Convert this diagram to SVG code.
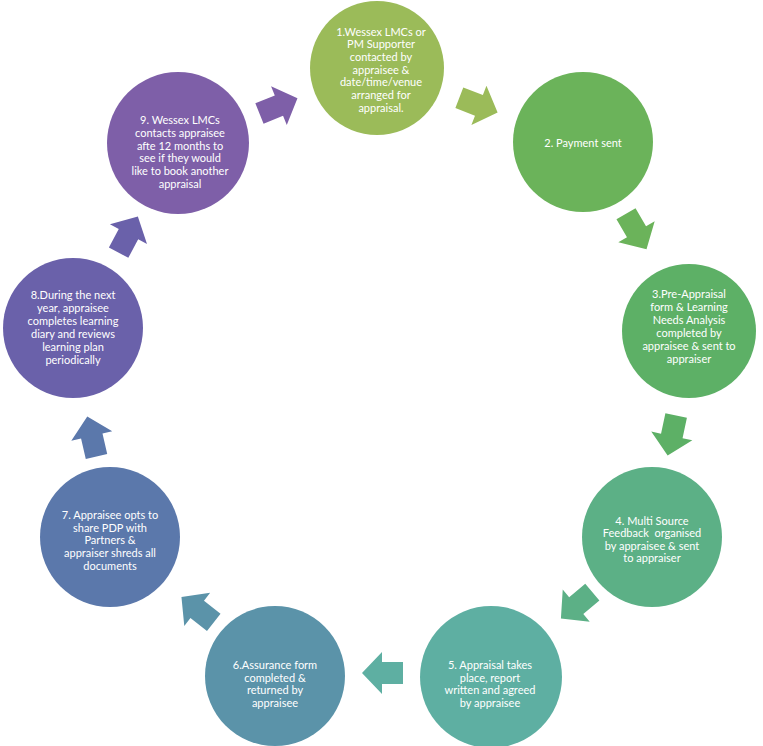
<svg xmlns="http://www.w3.org/2000/svg" width="763" height="746" viewBox="0 0 763 746">
<defs>
<style>
.t{font-family:Lato,"Open Sans","Liberation Sans",sans-serif;font-size:11px;fill:#ffffff;text-anchor:middle}
</style>
<path id="arr" d="M-20,-11 H1 V-21 L21,0 L1,21 V11 H-20 Z"/>
</defs>
<rect width="763" height="746" fill="#ffffff"/>
<g id="connectors">
<use href="#arr" fill="#9bbb59" transform="translate(478,105) rotate(21)"/>
<use href="#arr" fill="#6bb35a" transform="translate(636,231) rotate(60)"/>
<use href="#arr" fill="#5db066" transform="translate(672,435) rotate(102)"/>
<use href="#arr" fill="#5cb086" transform="translate(577,605) rotate(140)"/>
<use href="#arr" fill="#5eafa2" transform="translate(383,673) rotate(180)"/>
<use href="#arr" fill="#5b93a9" transform="translate(198,610) rotate(218)"/>
<use href="#arr" fill="#5b78ab" transform="translate(92,437) rotate(257)"/>
<use href="#arr" fill="#6a61aa" transform="translate(128,235) rotate(298)"/>
<use href="#arr" fill="#7e5fa8" transform="translate(278,106) rotate(338)"/>
</g>
<g id="n1">
<circle cx="377" cy="68" r="67" fill="#9bbb59"/>
<text class="t" x="381" y="35.5">1.Wessex LMCs or</text>
<text class="t" x="381" y="48.2">PM Supporter</text>
<text class="t" x="381" y="60.9">contacted by</text>
<text class="t" x="381" y="73.6">appraisee &amp;</text>
<text class="t" x="381" y="86.3">date/time/venue</text>
<text class="t" x="381" y="99">arranged for</text>
<text class="t" x="381" y="111.7">appraisal.</text>
</g>
<g id="n2">
<circle cx="583" cy="142" r="70" fill="#6bb35a"/>
<text class="t" x="583" y="147">2. Payment sent</text>
</g>
<g id="n3">
<circle cx="689" cy="331" r="67" fill="#5db066"/>
<text class="t" x="689" y="297.5">3.Pre-Appraisal</text>
<text class="t" x="689" y="310.5">form &amp; Learning</text>
<text class="t" x="689" y="323.5">Needs Analysis</text>
<text class="t" x="689" y="336.5">completed by</text>
<text class="t" x="689" y="349.5">appraisee &amp; sent to</text>
<text class="t" x="689" y="362.5">appraiser</text>
</g>
<g id="n4">
<circle cx="652" cy="537" r="70" fill="#5cb086"/>
<text class="t" x="652" y="524.5">4. Multi Source</text>
<text class="t" x="652" y="537">Feedback&#160; organised</text>
<text class="t" x="652" y="549.5">by appraisee &amp; sent</text>
<text class="t" x="652" y="562">to appraiser</text>
</g>
<g id="n5">
<circle cx="491" cy="677" r="71" fill="#5eafa2"/>
<text class="t" x="490" y="669">5. Appraisal takes</text>
<text class="t" x="490" y="681.7">place, report</text>
<text class="t" x="490" y="694.4">written and agreed</text>
<text class="t" x="490" y="707.1">by appraisee</text>
</g>
<g id="n6">
<circle cx="275" cy="676" r="70" fill="#5b93a9"/>
<text class="t" x="275" y="669">6.Assurance form</text>
<text class="t" x="275" y="681.7">completed &amp;</text>
<text class="t" x="275" y="694.4">returned by</text>
<text class="t" x="275" y="707.1">appraisee</text>
</g>
<g id="n7">
<circle cx="110" cy="537" r="70" fill="#5b78ab"/>
<text class="t" x="110" y="519">7. Appraisee opts to</text>
<text class="t" x="110" y="531.7">share PDP with</text>
<text class="t" x="110" y="544.4">Partners &amp;</text>
<text class="t" x="110" y="557.1">appraiser shreds all</text>
<text class="t" x="110" y="569.8">documents</text>
</g>
<g id="n8">
<circle cx="73" cy="328" r="70" fill="#6a61aa"/>
<text class="t" x="73" y="299">8.During the next</text>
<text class="t" x="73" y="312">year, appraisee</text>
<text class="t" x="73" y="325">completes learning</text>
<text class="t" x="73" y="338">diary and reviews</text>
<text class="t" x="73" y="351">learning plan</text>
<text class="t" x="73" y="364">periodically</text>
</g>
<g id="n9">
<circle cx="178" cy="143" r="71" fill="#7e5fa8"/>
<text class="t" x="180" y="124">9. Wessex LMCs</text>
<text class="t" x="180" y="136.8">contacts appraisee</text>
<text class="t" x="180" y="149.6">afte 12 months to</text>
<text class="t" x="180" y="162.4">see if they would</text>
<text class="t" x="180" y="175.2">like to book another</text>
<text class="t" x="180" y="188">appraisal</text>
</g>
</svg>
